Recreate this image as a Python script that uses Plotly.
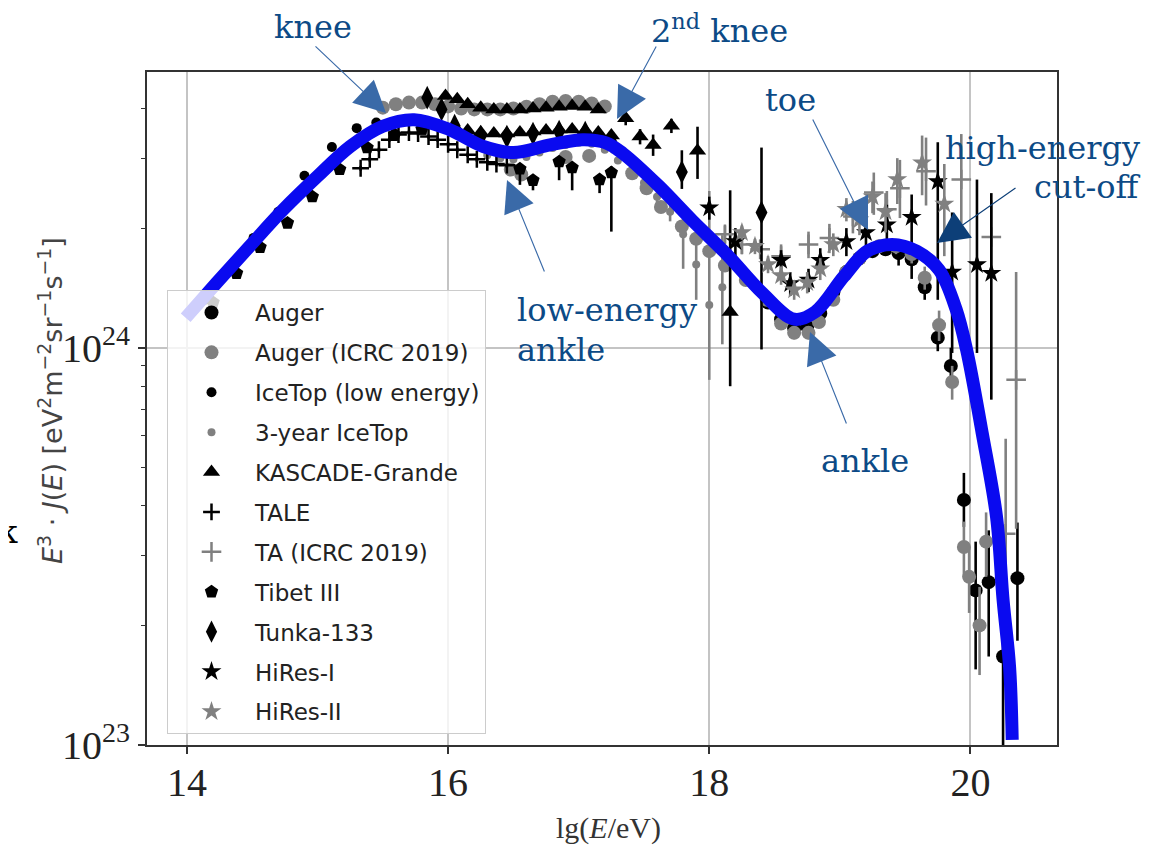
import plotly.graph_objects as go
import numpy as np

# ---------------- data (lg E/eV ; E^3 J(E) in units of 1e24) ----------------
model_lg = [13.99, 14.23, 14.48, 14.74, 15.00, 15.25, 15.50, 15.74, 16.01, 16.27, 16.50, 16.78,
            17.03, 17.21, 17.34, 17.61, 17.87, 18.14, 18.41, 18.65, 18.81, 19.03, 19.21, 19.40,
            19.59, 19.76, 19.89, 19.97, 20.09, 20.20, 20.25, 20.30, 20.32]
model_J = [1.19, 1.46, 1.80, 2.23, 2.70, 3.21, 3.61, 3.75, 3.54, 3.21, 3.10, 3.24,
           3.34, 3.28, 3.08, 2.56, 2.09, 1.71, 1.37, 1.18, 1.23, 1.51, 1.75, 1.82,
           1.75, 1.57, 1.25, 0.99, 0.61, 0.375, 0.232, 0.157, 0.103]

auger_lg = [18.45, 18.55, 18.65, 18.75, 18.85, 18.95, 19.05, 19.15, 19.25, 19.35, 19.45, 19.55,
            19.65, 19.75, 19.85, 19.95, 20.04, 20.14, 20.25, 20.36]
auger_J = [1.30, 1.18, 1.12, 1.13, 1.22, 1.38, 1.55, 1.68, 1.75, 1.77, 1.73, 1.67,
           1.42, 1.06, 0.90, 0.414, 0.245, 0.257, 0.167, 0.263]
auger_eh = [0.02, 0.02, 0.02, 0.02, 0.02, 0.03, 0.03, 0.04, 0.05, 0.06, 0.07, 0.08,
            0.08, 0.08, 0.10, 0.07, 0.08, 0.09, 0.10, 0.10]
auger_el = [0.02, 0.02, 0.02, 0.02, 0.02, 0.03, 0.03, 0.04, 0.05, 0.06, 0.12, 0.18,
            0.10, 0.08, 0.10, 0.06, 0.09, 0.09, 0.08, 0.08]

augicrc_lg = [15.50, 15.60, 15.70, 15.80, 15.90, 16.00, 16.10, 16.20, 16.30, 16.40, 16.50, 16.60,
              16.70, 16.80, 16.90, 17.00, 17.10, 17.20,
              16.48, 16.56, 16.90, 17.08,
              17.41, 17.52, 17.63, 17.79, 17.90, 18.00, 18.12, 18.28, 18.44, 18.55, 18.65, 18.76,
              18.84, 18.95, 19.05, 19.15, 19.30, 19.43, 19.55, 19.65, 19.76, 19.86, 19.95, 19.99,
              20.07, 20.12]
augicrc_J = [4.02, 4.10, 4.14, 4.14, 4.10, 4.05, 4.00, 3.98, 3.98, 3.98, 4.00, 4.04,
             4.10, 4.16, 4.18, 4.16, 4.12, 4.05,
             2.81, 2.73, 3.02, 3.04,
             2.75, 2.52, 2.26, 2.02, 1.88, 1.75, 1.61, 1.48, 1.32, 1.15, 1.09, 1.09,
             1.16, 1.32, 1.55, 1.68, 1.80, 1.80, 1.72, 1.50, 1.14, 0.82, 0.315, 0.265,
             0.200, 0.325]
augicrc_err = [0.04] * 18 + [0.06] * 4 + [0.04] * 14 + [0.05, 0.06, 0.07, 0.08, 0.09, 0.10,
                                                         0.10, 0.08, 0.05, 0.05, 0.05, 0.06]

icetop_lg = [14.14, 14.51, 14.70, 14.90, 15.11, 15.30, 15.45]
icetop_J = [1.32, 1.89, 2.20, 2.71, 3.20, 3.57, 3.69]
icetop_err = [0.03, 0.04, 0.04, 0.05, 0.05, 0.06, 0.06]

ice3_lg = [16.30, 16.40, 16.50, 16.60, 16.70, 16.80, 16.90, 17.00, 17.10, 17.20, 17.30, 17.40,
           17.50, 17.60, 17.70, 17.80, 17.90, 18.00, 18.10]
ice3_J = [3.05, 3.00, 2.98, 3.02, 3.10, 3.18, 3.24, 3.28, 3.26, 3.15, 2.96, 2.78,
          2.60, 2.40, 2.20, 1.93, 1.62, 1.28, 1.42]
ice3_eh = [0.03] * 13 + [0.10, 0.12, 0.25, 0.30, 1.20, 0.50]
ice3_el = [0.03] * 13 + [0.10, 0.12, 0.35, 0.30, 0.45, 0.40]

kg_lg = [15.98, 16.07, 16.15, 16.25, 16.35, 16.45, 16.55, 16.65, 16.75, 16.85, 16.95, 17.05, 17.15,
         16.05, 16.15, 16.25, 16.35, 16.45, 16.55, 16.65, 16.75, 16.85, 16.95, 17.05, 17.15, 17.25,
         17.36, 17.47, 17.57, 17.71, 17.91, 18.16]
kg_J = [4.30, 4.22, 4.10, 4.02, 3.98, 3.98, 3.98, 4.00, 4.02, 4.04, 4.06, 4.04, 3.98,
        3.60, 3.52, 3.48, 3.46, 3.46, 3.48, 3.50, 3.52, 3.54, 3.54, 3.52, 3.48, 3.42,
        3.78, 3.40, 3.24, 3.62, 3.13, 1.23]
kg_eh = [0.05] * 26 + [0.15, 0.15, 0.20, 0.15, 0.47, 1.26]
kg_el = [0.05] * 26 + [0.15, 0.15, 0.20, 0.15, 0.47, 0.43]

tale_lg = [15.33, 15.40, 15.47, 15.55, 15.62, 15.70, 15.77, 15.85, 15.92, 16.00, 16.07, 16.15,
           16.22, 16.30, 16.37, 16.45]
tale_J = [2.83, 2.98, 3.15, 3.34, 3.44, 3.48, 3.46, 3.40, 3.34, 3.25, 3.15, 3.06,
          2.98, 2.93, 2.90, 2.88]
tale_err = [0.04] * 16

ta_lg = [18.12, 18.25, 18.39, 18.55, 18.76, 18.92, 19.10, 19.26, 19.36, 19.46, 19.66, 19.93,
         20.16, 20.27, 20.35]
ta_J = [1.93, 1.82, 1.77, 1.70, 1.82, 1.89, 2.14, 2.46, 2.23, 2.52, 2.78, 2.65,
        1.90, 0.34, 0.83]
ta_eh = [0.10, 0.10, 0.10, 0.12, 0.14, 0.16, 0.20, 0.30, 0.25, 0.45, 0.60, 0.80, 0.45, 0.25, 0.72]
ta_el = [0.10, 0.10, 0.10, 0.12, 0.14, 0.16, 0.20, 0.30, 0.25, 0.40, 0.50, 0.60, 0.40, 0.21, 0.48]

tibet_lg = [14.20, 14.38, 14.56, 14.77, 14.96, 15.17, 15.38, 15.59, 15.80,
            16.55, 16.65, 16.85, 16.95, 17.16, 17.25]
tibet_J = [1.30, 1.54, 1.79, 2.06, 2.40, 2.81, 3.19, 3.44, 3.55,
           2.82, 2.64, 2.94, 2.84, 2.65, 2.76]
tibet_eh = [0.03] * 9 + [0.08, 0.08, 0.08, 0.08, 0.08, 0.10]
tibet_el = [0.03] * 9 + [0.25, 0.15, 0.30, 0.35, 0.20, 0.80]

tunka_lg = [15.84, 15.95, 16.05, 16.25, 16.45, 16.65, 16.85, 17.05, 17.25, 17.79, 18.40]
tunka_J = [4.26, 3.98, 3.62, 3.40, 3.40, 3.46, 3.50, 3.48, 3.30, 2.77, 2.19]
tunka_eh = [0.08, 0.08, 0.08, 0.08, 0.08, 0.08, 0.08, 0.10, 0.12, 0.37, 1.00]
tunka_el = [0.08, 0.08, 0.08, 0.08, 0.08, 0.08, 0.08, 0.10, 0.12, 0.26, 1.20]

hires1_lg = [18.00, 18.20, 18.55, 18.62, 18.76, 18.85, 19.05, 19.20, 19.36, 19.55, 19.75, 19.86,
             20.05, 20.16]
hires1_J = [2.25, 1.85, 1.66, 1.45, 1.48, 1.66, 1.85, 1.95, 2.04, 2.13, 2.62, 1.55, 1.62, 1.54]
hires1_eh = [0.15, 0.15, 0.10, 0.10, 0.10, 0.12, 0.15, 0.20, 0.25, 0.30, 0.67, 0.64, 1.03, 0.91]
hires1_el = [0.15, 0.15, 0.10, 0.10, 0.10, 0.12, 0.15, 0.20, 0.25, 0.30, 1.30, 0.58, 0.65, 0.80]

hires2_lg = [18.25, 18.35, 18.45, 18.55, 18.65, 18.75, 18.85, 18.95, 19.05, 19.15, 19.25, 19.35,
             19.44, 19.63, 19.80]
hires2_J = [1.95, 1.80, 1.62, 1.52, 1.40, 1.46, 1.58, 1.82, 2.23, 2.10, 2.40, 2.20, 2.65, 2.92, 2.30]
hires2_err = [0.08, 0.08, 0.08, 0.08, 0.08, 0.09, 0.10, 0.12, 0.15, 0.18, 0.22, 0.25, 0.35, 0.50, 0.60]

UNIT = 1e24
BLACK = "#000000"
GRAY = "#808080"

fig = go.Figure()


def add_series(name, lg, J, eh, el, symbol, color, size, open_line=False):
    J = np.array(J) * UNIT
    eh = np.array(eh) * UNIT
    el = np.array(el) * UNIT
    marker = dict(symbol=symbol, size=size, color=color)
    if open_line:
        marker["line"] = dict(color=color, width=2.5)
    else:
        marker["line"] = dict(width=0)
    fig.add_trace(go.Scatter(
        x=lg, y=J, mode="markers", name=name, legendgroup=name,
        marker=marker,
        error_y=dict(type="data", symmetric=False, array=eh, arrayminus=el,
                     color=color, thickness=2.6, width=0),
    ))


add_series("Auger", auger_lg, auger_J, auger_eh, auger_el, "circle", BLACK, 14)
add_series("Auger (ICRC 2019)", augicrc_lg, augicrc_J, augicrc_err, augicrc_err, "circle", GRAY, 14)
add_series("IceTop (low energy)", icetop_lg, icetop_J, icetop_err, icetop_err, "circle", BLACK, 10)
add_series("3-year IceTop", ice3_lg, ice3_J, ice3_eh, ice3_el, "circle", GRAY, 8)
add_series("KASCADE-Grande", kg_lg, kg_J, kg_eh, kg_el, "triangle-up", BLACK, 15)
add_series("TALE", tale_lg, tale_J, tale_err, tale_err, "cross-thin", BLACK, 12, open_line=True)
add_series("TA (ICRC 2019)", ta_lg, ta_J, ta_eh, ta_el, "cross-thin", GRAY, 14, open_line=True)
add_series("Tibet III", tibet_lg, tibet_J, tibet_eh, tibet_el, "pentagon", BLACK, 14)
add_series("Tunka-133", tunka_lg, tunka_J, tunka_eh, tunka_el, "diamond-tall", BLACK, 17)
add_series("HiRes-I", hires1_lg, hires1_J, hires1_eh, hires1_el, "star", BLACK, 15)
add_series("HiRes-II", hires2_lg, hires2_J, hires2_err, hires2_err, "star", GRAY, 15)

# model curve on top
fig.add_trace(go.Scatter(
    x=model_lg, y=np.array(model_J) * UNIT, mode="lines", showlegend=False,
    line=dict(color="#0a0af0", width=13, shape="spline", smoothing=1.0),
))

# ---------------- layout ----------------
# the page body adds an 8px offset; figure sized so the plot frame lands at
# page x 147..1057, y 72..745
OFF = 8
L, R, T, B = 139, 100, 64, 100
W, H = 1149, 837
PW, PH = W - L - R, H - T - B


def px(xp):
    return (xp - OFF - L) / PW


def py(yp):
    return (H - B - (yp - OFF)) / PH


TXT = "#0c4a86"
ARW = "#3a6aa8"
SERIF = "DejaVu Serif"

annotations = []
labels = [
    ("knee", 313, 27, "center"),
    ("2<sup>nd</sup> knee", 719, 29, "center"),
    ("toe", 790, 100, "center"),
    ("high-energy", 1142, 148, "right"),
    ("cut-off", 1142, 187, "right"),
    ("low-energy", 515, 310, "left"),
    ("ankle", 515, 350, "left"),
    ("ankle", 865, 461, "center"),
]
for text, x, y, anc in labels:
    annotations.append(dict(text=text, xref="paper", yref="paper", x=px(x), y=py(y),
                            xanchor=anc, yanchor="middle", showarrow=False,
                            font=dict(family=SERIF, size=32, color=TXT)))

arrows = [
    (386, 113, -72, -68, ARW),
    (617, 119, 40, -74, ARW),
    (507, 180, 38, 93, ARW),
    (868, 230, -56, -112, ARW),
    (937, 243, 80, -56, "#0d3f78"),
    (810, 332, 37, 93, ARW),
]
for x, y, ax, ay, col in arrows:
    annotations.append(dict(text="", xref="paper", yref="paper", x=px(x), y=py(y),
                            ax=ax, ay=ay, showarrow=True, arrowhead=2, arrowsize=5.5,
                            arrowwidth=1.15, arrowcolor=col, standoff=0))

# axis titles
annotations.append(dict(text="lg(<i>E</i>/eV)", xref="paper", yref="paper", x=px(608), y=py(828),
                        xanchor="center", yanchor="middle", showarrow=False,
                        font=dict(family="Liberation Serif", size=30, color="#333333")))
annotations.append(dict(
    text="<i>E</i><sup>3</sup> · <i>J</i>(<i>E</i>) [eV<sup>2</sup>m<sup>−2</sup>sr<sup>−1</sup>s<sup>−1</sup>]",
    xref="paper", yref="paper", x=px(50), y=py(401), xanchor="center", yanchor="middle",
    showarrow=False, textangle=-90,
    font=dict(family="DejaVu Sans", size=27, color="#444444")))
# clipped glyph at the left edge of the picture
annotations.append(dict(text="k", xref="paper", yref="paper", x=px(20), y=py(532),
                        xanchor="right", yanchor="middle", showarrow=False,
                        font=dict(family=SERIF, size=32, color="#000000")))

minor_vals = [2e23, 3e23, 4e23, 5e23, 6e23, 7e23, 8e23, 9e23, 2e24, 3e24, 4e24]

fig.update_layout(
    width=W, height=H,
    margin=dict(l=L, r=R, t=T, b=B),
    paper_bgcolor="white", plot_bgcolor="white",
    annotations=annotations,
    legend=dict(x=px(167), y=py(290), xanchor="left", yanchor="top",
                bgcolor="rgba(255,255,255,0.8)", bordercolor="#cccccc", borderwidth=1,
                font=dict(family="DejaVu Sans", size=23, color="#222222"),
                tracegroupgap=7, itemwidth=77, traceorder="grouped"),
    xaxis=dict(range=[13.694, 20.663], tickvals=[14, 16, 18, 20], ticks="outside",
               ticklen=7, tickwidth=1.5, tickcolor="#333333",
               showline=True, linecolor="#333333", linewidth=2, mirror=True,
               showgrid=True, gridcolor="#c4c4c4", gridwidth=1.5, zeroline=False,
               ticklabelstandoff=-6,
               tickfont=dict(family="Liberation Serif", size=40, color="#222222")),
    yaxis=dict(type="log", range=[23, 24.694], tickvals=[1e23, 1e24],
               ticktext=["10<sup>23</sup>", "10<sup>24</sup>"], ticks="outside",
               ticklen=7, tickwidth=1.5, tickcolor="#333333",
               showline=True, linecolor="#333333", linewidth=2, mirror=True,
               showgrid=True, gridcolor="#c4c4c4", gridwidth=1.5, zeroline=False,
               tickfont=dict(family="Liberation Serif", size=40, color="#222222"),
               minor=dict(tickvals=minor_vals, ticks="outside", ticklen=4,
                          tickwidth=1.2, tickcolor="#333333", showgrid=False)),
    showlegend=True,
)

fig.write_html("out.html")
